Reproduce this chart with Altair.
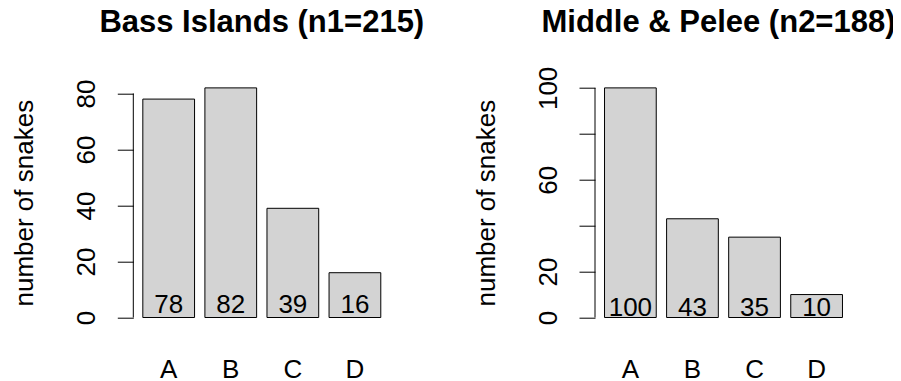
import altair as alt
import pandas as pd

# ---- data ----
categories = ["A", "B", "C", "D"]
bass_counts = [78, 82, 39, 16]
pelee_counts = [100, 43, 35, 10]
bass_title = "Bass Islands (n1=215)"
pelee_title = "Middle & Pelee (n2=188)"
y_title = "number of snakes"
bass_ticks = [0, 20, 40, 60, 80]
pelee_ticks = [0, 20, 40, 60, 80, 100]
pelee_tick_labels = [0, 20, 60, 100]

FONT = "Liberation Sans"
FS = 26
W, H = 257, 248
LABEL_Y = 5  # data units where the count labels sit (as in the original)

# R barplot geometry: bar width 1, space 0.2, 4% axis extension
P_INNER = 0.2 / 1.2
P_OUTER = (0.04 * 4.6) / 1.2


def panel(counts, title, ticks, shown_labels, title_offset, title_dx):
    df = pd.DataFrame({"cat": categories, "n": counts})
    vmax = max(counts)
    yscale = alt.Scale(domain=[-0.04 * vmax, 1.04 * vmax], nice=False, zero=False)
    xaxis = alt.Axis(
        title=None, domain=False, ticks=False, tickSize=0, labelAngle=0,
        labelFont=FONT, labelFontSize=FS, labelColor="black",
        labelBaseline="alphabetic", labelPadding=50.6,
    )
    xscale = alt.Scale(paddingInner=P_INNER, paddingOuter=P_OUTER)
    label_expr = " || ".join(f"datum.value == {v}" for v in shown_labels)
    yaxis = alt.Axis(
        values=ticks, domain=False, grid=False, ticks=True, tickSize=16,
        tickColor="black", tickWidth=1, labelAngle=270, labelAlign="center",
        labelBaseline="alphabetic", labelPadding=22.5, labelFont=FONT,
        labelFontSize=FS, labelColor="black", labelOverlap=False,
        labelFlush=False, labelExpr=f"({label_expr}) ? datum.label : ''",
        title=y_title, titleFont=FONT, titleFontSize=FS, titleFontWeight="normal",
        titleColor="black", titleAngle=270, titleAlign="center",
        titleBaseline="alphabetic", titleX=-100.5, titleY=H / 2,
    )
    bars = alt.Chart(df).mark_bar(
        color="#D3D3D3", stroke="black", strokeWidth=1
    ).encode(
        x=alt.X("cat:N", sort=categories, scale=xscale, axis=xaxis),
        y=alt.Y("n:Q", scale=yscale, axis=yaxis),
        y2=alt.datum(0),
    )
    text = alt.Chart(df).mark_text(
        font=FONT, fontSize=FS, baseline="alphabetic", dy=9.5, color="black"
    ).encode(
        x=alt.X("cat:N", sort=categories, scale=xscale, axis=xaxis),
        y=alt.datum(LABEL_Y, scale=yscale, axis=yaxis),
        text="n:Q",
    )
    axis_line = alt.Chart(
        pd.DataFrame({"lo": [ticks[0]], "hi": [ticks[-1]]})
    ).mark_rule(color="black", strokeWidth=1).encode(
        x=alt.value(0),
        y=alt.Y("lo:Q", scale=yscale, axis=yaxis),
        y2="hi:Q",
    )
    return alt.layer(bars, text, axis_line).properties(
        width=W, height=H,
        title=alt.TitleParams(
            text=title, font=FONT, fontSize=31, fontWeight="bold", color="black",
            anchor="middle", frame="group", baseline="alphabetic",
            offset=title_offset, dx=title_dx,
        ),
    )


left = panel(bass_counts, bass_title, bass_ticks, bass_ticks, 15.4, 0)
right = panel(pelee_counts, pelee_title, pelee_ticks, pelee_tick_labels, 3.3, -5)

chart = alt.hconcat(left, right, spacing=204.7, bounds="flush").properties(
    autosize=alt.AutoSizeParams(type="none"),
    padding={"left": 125.3, "top": 70.7, "right": 885 - 125.3, "bottom": 365 - 70.7},
    background="white",
).configure_view(strokeWidth=0)

chart.save("out.html", embed_options={"renderer": "svg", "actions": False})
